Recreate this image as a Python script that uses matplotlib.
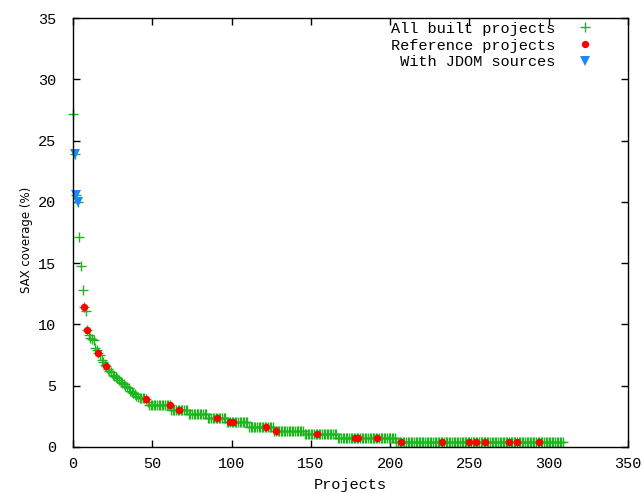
import numpy as np
import matplotlib
matplotlib.use("Agg")
import matplotlib.pyplot as plt

# ---- data ----
# first projects, one value each (index 0..47)
head_values = [27.2, 23.9, 20.6, 20.0, 17.1, 14.8, 12.8, 11.45, 11.1, 9.55,
               9.1, 8.9, 8.8, 8.7, 8.1, 7.9, 7.7, 7.5, 7.1, 6.9,
               6.7, 6.6, 6.4, 6.2, 6.1, 5.9, 5.8, 5.7, 5.6, 5.5,
               5.3, 5.2, 5.1, 5.0, 4.9, 4.8, 4.6, 4.5, 4.4, 4.3,
               4.2, 4.1, 4.0, 4.0, 4.0, 4.0, 3.95, 3.7]
# then flat plateaus: level and number of projects at that level
plateau_levels = [3.4, 3.0, 2.7, 2.35, 2.0, 1.66, 1.33, 1.04, 0.71, 0.4]
plateau_counts = [14, 11, 12, 12, 14, 16, 19, 21, 37, 106]

# reference projects (indices into all built projects)
reference_idx = [7, 9, 16, 21, 46, 61, 67, 91, 99, 101, 122, 128, 154,
                 178, 180, 192, 207, 233, 250, 254, 260, 275, 280, 294]
# projects with JDOM sources
jdom_x = [1, 2, 3]
jdom_y = [23.9, 20.6, 20.0]

all_values = list(head_values)
for lvl, cnt in zip(plateau_levels, plateau_counts):
    all_values += [lvl] * cnt
all_values = np.array(all_values)
all_x = np.arange(len(all_values))
ref_x = np.array(reference_idx)
ref_y = all_values[ref_x]

# ---- plot ----
mono = "Liberation Mono"
fig = plt.figure(figsize=(6.44, 4.93), dpi=100)
ax = fig.add_axes([73/644, 1-447/493, (628-73)/644, (447-18)/493])

green = "#1fb51f"
red = "#ff0000"
blue = "#1a88ff"

ax.plot(all_x, all_values, linestyle="none", marker="+", color=green,
        markersize=6.5, markeredgewidth=1.0, label="All built projects",
        clip_on=False)
ax.plot(ref_x, ref_y, linestyle="none", marker="o", color=red,
        markersize=5.3, markeredgewidth=0, label="Reference projects",
        clip_on=False)
ax.plot(jdom_x, jdom_y, linestyle="none", marker="v", color=blue,
        markersize=6.5, markeredgewidth=0, label=" With JDOM sources",
        clip_on=False)

ax.set_xlim(0, 350)
ax.set_ylim(0, 35)
ax.set_xticks(np.arange(0, 351, 50))
ax.set_yticks(np.arange(0, 36, 5))
ax.tick_params(direction="in", length=5, width=1, top=True, right=True,
               labelsize=11)
ax.tick_params(axis="y", pad=12)
ax.tick_params(axis="x", pad=7)
for lab in ax.get_xticklabels() + ax.get_yticklabels():
    lab.set_fontfamily(mono)
for s in ax.spines.values():
    s.set_linewidth(1.0)

ax.set_xlabel("Projects", fontfamily=mono, fontsize=11, labelpad=5)
ax.set_ylabel("SAX coverage (%)", fontfamily="DejaVu Sans", fontsize=8.5)
ax.yaxis.set_label_coords(-0.072, 0.4825)

leg = ax.legend(loc="upper right", frameon=False, markerfirst=False,
                prop={"family": mono, "size": 11}, handletextpad=1.2,
                labelspacing=0.18, borderaxespad=0.3, handlelength=1.5,
                bbox_to_anchor=(0.962, 1.016))

fig.savefig("out.png", dpi=100)
